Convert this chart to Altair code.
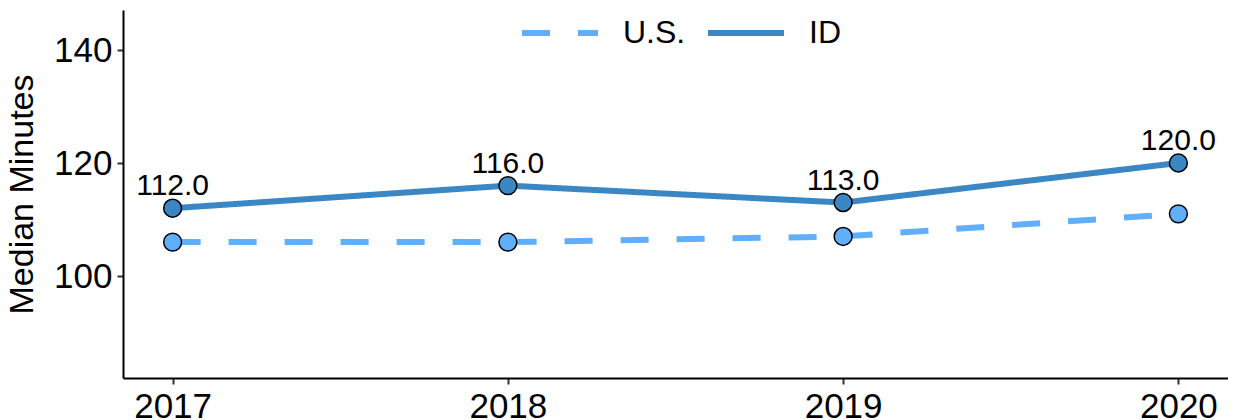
import altair as alt
import pandas as pd

years = [2017, 2018, 2019, 2020]
us_values = [106, 106, 107, 111]
id_values = [112, 116, 113, 120]
series_names = ["U.S.", "ID"]
series_colors = ["#61AFFA", "#3A87C4"]

rows = []
for y, v in zip(years, us_values):
    rows.append({"year": y, "value": v, "series": "U.S."})
for y, v in zip(years, id_values):
    rows.append({"year": y, "value": v, "series": "ID"})
df = pd.DataFrame(rows)
df["label"] = df["value"].map(lambda v: f"{v:.1f}")

FONT = "Liberation Sans"

x_enc = alt.X("year:O", scale=alt.Scale(type="point", padding=0.148),
              axis=alt.Axis(title=None, labelAngle=0))
y_enc = alt.Y("value:Q", scale=alt.Scale(domain=[81.95, 147.08], nice=False, zero=False),
              axis=alt.Axis(title="Median Minutes", values=[100, 120, 140]))

color_scale = alt.Scale(domain=series_names, range=series_colors)

legend_cfg = dict(title=None, orient="none", direction="horizontal",
                  legendX=396, legendY=-18,
                  symbolType="stroke", symbolSize=5776,
                  symbolStrokeWidth=6, labelFontSize=32,
                  labelOffset=22, columnPadding=10,
                  labelColor="black", labelFont=FONT)

lines = alt.Chart(df).mark_line(strokeWidth=6).encode(
    x=x_enc,
    y=y_enc,
    color=alt.Color("series:N", scale=color_scale, sort=series_names,
                    legend=alt.Legend(**legend_cfg)),
    strokeDash=alt.StrokeDash("series:N", sort=series_names,
                              scale=alt.Scale(domain=series_names, range=[[28, 28], [1, 0]]),
                              legend=alt.Legend(**legend_cfg)),
    detail="series:N",
)

points = alt.Chart(df).mark_point(filled=True, size=320, stroke="black", strokeWidth=1.5, opacity=1).encode(
    x=x_enc,
    y=y_enc,
    fill=alt.Fill("series:N", scale=color_scale, legend=None),
)

labels = alt.Chart(df).transform_filter(alt.datum.series == "ID").mark_text(
    fontSize=30, font=FONT, color="black", baseline="alphabetic", dy=-13
).encode(
    x=x_enc,
    y=y_enc,
    text="label:N",
)

chart = alt.layer(lines, points, labels).properties(
    width=1105, height=368,
    autosize=alt.AutoSizeParams(type="none"),
    padding={"left": 115, "top": 2, "right": 0, "bottom": 42},
).configure_view(stroke=None).configure_axis(
    domainColor="black", domainWidth=2, tickColor="#333333", tickWidth=2, tickSize=6,
    labelFontSize=35, labelColor="black", labelFont=FONT, labelPadding=5,
    titleFontSize=34, titleFont=FONT, titleFontWeight="normal", titleColor="black",
    grid=False,
).configure_axisY(titlePadding=14)

chart.save("out.html", embed_options={"renderer": "svg", "actions": False})
